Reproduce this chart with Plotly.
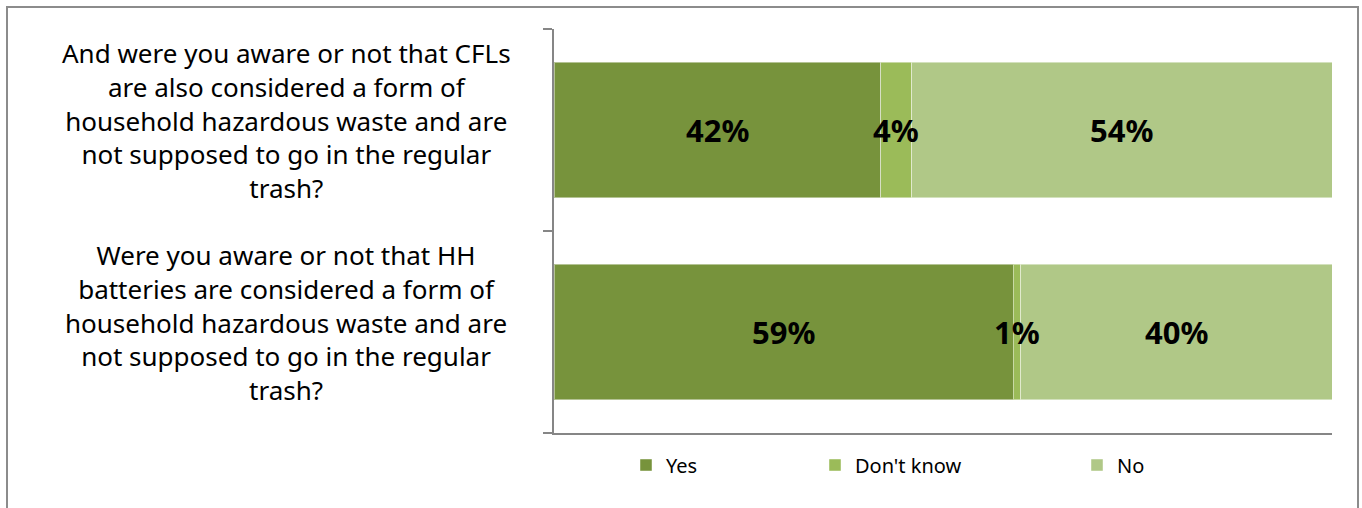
import plotly.graph_objects as go

categories = [
    "And were you aware or not that CFLs<br>are also considered a form of<br>household hazardous waste and are<br>not supposed to go in the regular<br>trash?",
    "Were you aware or not that HH<br>batteries are considered a form of<br>household hazardous waste and are<br>not supposed to go in the regular<br>trash?",
]
series_names = ["Yes", "Don't know", "No"]
yes_vals = [42, 59]
dontknow_vals = [4, 1]
no_vals = [54, 40]
colors = ["#77933C", "#9BBB59", "#B0C887"]

series_vals = [yes_vals, dontknow_vals, no_vals]
# numeric positions: first category on top
ypos = [len(categories) - 1 - i for i in range(len(categories))]

L, R, T, B = 554, 30, 29, 75
W, H = 1362, 508
pw, ph = W - L - R, H - T - B

fig = go.Figure()
legend_ids = ["legend", "legend2", "legend3"]
for name, vals, col, lg in zip(series_names, series_vals, colors, legend_ids):
    fig.add_trace(go.Bar(
        y=ypos, x=vals, name=name, orientation="h",
        marker=dict(color=col, line=dict(color="rgba(255,255,255,0.45)", width=1)),
        width=0.67, legend=lg, hoverinfo="x+name",
    ))

annotations = []
# data labels at segment centers
for ci in range(len(categories)):
    cum = 0
    for vals in series_vals:
        v = vals[ci]
        annotations.append(dict(
            x=cum + v / 2, y=ypos[ci], xref="x", yref="y",
            xanchor="center", yanchor="middle",
            text=f"<b>{v}%</b>", showarrow=False,
            font=dict(family="Noto Sans", size=31, color="#000000"),
        ))
        cum += v

def px_x(p):
    return (p - L) / pw

def px_y(p):
    return (H - B - p) / ph

# category labels
for ci, cat in enumerate(categories):
    annotations.append(dict(
        x=px_x(286), xref="paper", y=ypos[ci], yref="y",
        xanchor="center", yanchor="middle",
        text=cat, showarrow=False, align="center", yshift=10,
        font=dict(family="Noto Sans", size=26, color="#000000"),
    ))

shapes = [dict(
    type="rect", xref="paper", yref="paper",
    x0=px_x(7), x1=px_x(1358), y0=px_y(530), y1=px_y(7),
    line=dict(color="#8C8C8C", width=2), fillcolor="rgba(0,0,0,0)", layer="below",
)]

leg_font = dict(family="Noto Sans", size=20, color="#000000")
leg_common = dict(orientation="h", yanchor="middle", xanchor="left", font=leg_font,
                  bgcolor="rgba(0,0,0,0)", itemwidth=30, tracegroupgap=0)
text_x = [668, 857, 1119]
leg_layout = {}
for lg, tx in zip(legend_ids, text_x):
    leg_layout[lg] = dict(x=px_x(tx - 42), y=px_y(465), **leg_common)

fig.update_layout(
    width=W, height=H,
    margin=dict(l=L, r=R, t=T, b=B, pad=0),
    barmode="stack",
    plot_bgcolor="white", paper_bgcolor="white",
    showlegend=True,
    xaxis=dict(range=[0, 100], showgrid=False, zeroline=False, showticklabels=False,
               showline=True, linecolor="#868686", linewidth=1.5, ticks="", fixedrange=True),
    yaxis=dict(range=[-0.5, len(categories) - 0.5], showgrid=False, zeroline=False,
               showticklabels=False, showline=True, linecolor="#868686", linewidth=1.5,
               tickmode="array", tickvals=[-0.5 + i for i in range(len(categories) + 1)],
               ticks="outside", ticklen=9, tickcolor="#868686", tickwidth=1.5, fixedrange=True),
    annotations=annotations,
    shapes=shapes,
    **leg_layout,
)

fig.write_html("out.html", config={"displayModeBar": False},
               post_script="document.body.style.margin='0';document.body.style.overflow='hidden';")
